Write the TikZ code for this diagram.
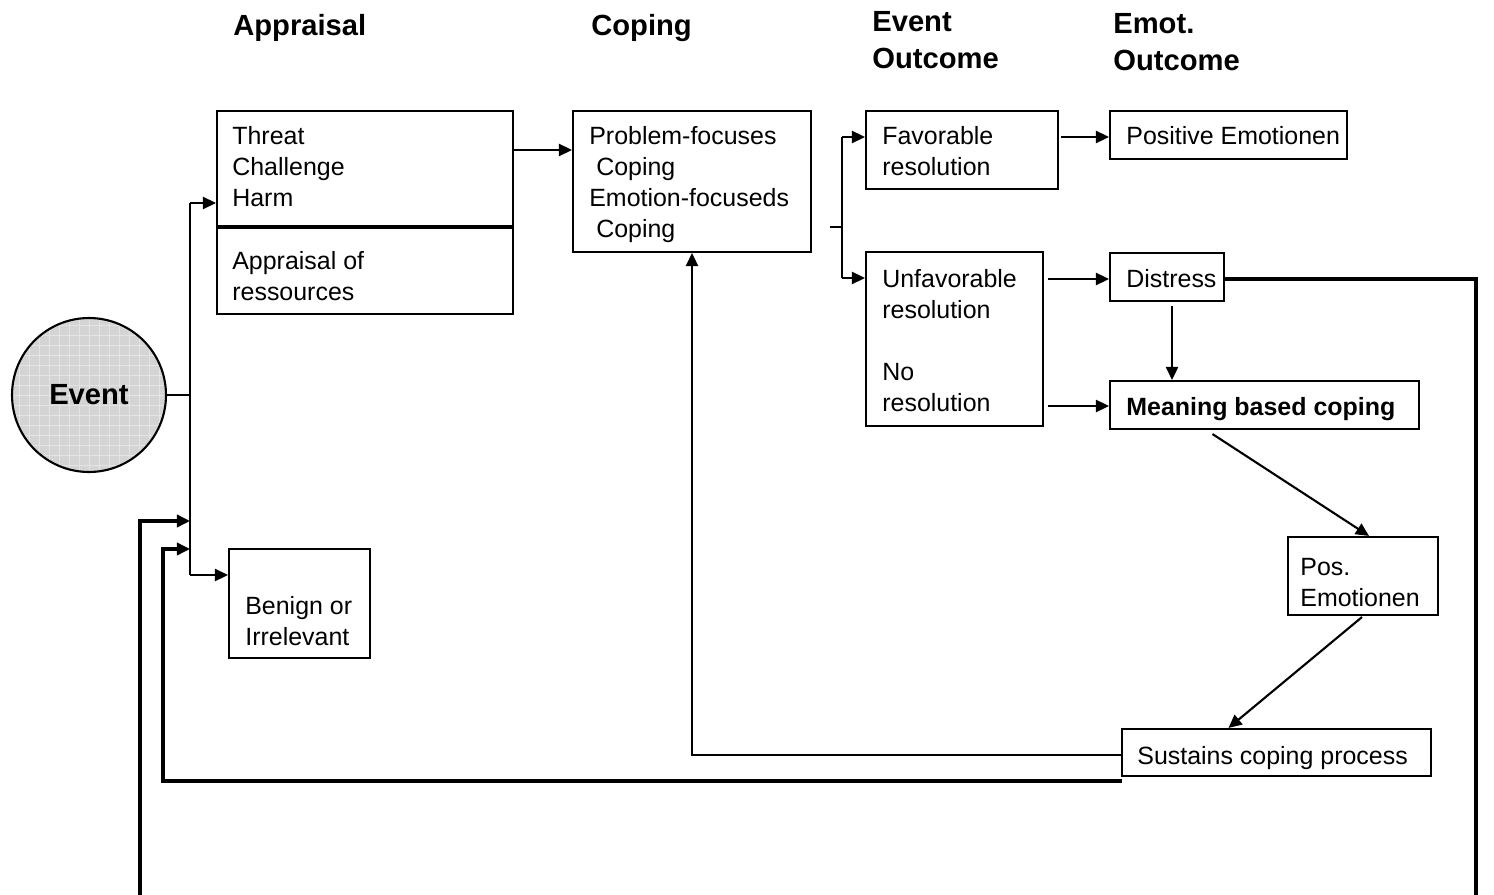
\documentclass[tikz,border=0pt]{standalone}
\usepackage{fontspec}
\setmainfont{Liberation Sans}
\usetikzlibrary{arrows.meta,fit}
\definecolor{evfill}{RGB}{212,212,212}
\definecolor{evgrid}{RGB}{228,228,228}
\begin{document}
\begin{tikzpicture}[x=0.02cm,y=-0.02cm,
  font=\fontsize{14.2}{17.6}\selectfont,
  box/.style={draw, line width=1.2pt, inner sep=0pt, fit={#1}},
  lbl/.style={anchor=north west, inner sep=0pt, align=left},
  head/.style={lbl, font=\fontsize{16.6}{21}\selectfont\bfseries},
  link/.style={line width=1.2pt},
  arr/.style={link, -{Triangle[length=7.5pt,width=7pt]}},
  fb/.style={line width=1.8pt},
  fbarr/.style={fb, -{Triangle[length=7.5pt,width=7pt]}}]
\useasboundingbox (0,0) rectangle (1494,895);

% column headings
\node[head] (hA) at (233,14) {Appraisal};
\node[head] (hC) at (591,14) {Coping};
\node[head] (hE) at (872,11) {Event\\Outcome};
\node[head] (hM) at (1113,13) {Emot.\\Outcome};

% the triggering event
\node[circle, draw, line width=1.2pt, minimum size=3.08cm, fill=evfill,
  font=\fontsize{16.6}{21}\selectfont\bfseries,
  path picture={\draw[evgrid, line width=0.4pt, step=0.2cm]
    (path picture bounding box.south west) grid (path picture bounding box.north east);}]
  (event) at (89,395) {Event};

% boxes
\node[box={(217,111) (513,314)}] (threat) {};
\draw[line width=1.8pt] (threat.west |- 0,227) -- (threat.east |- 0,227);
\node[box={(573,111) (811,252)}] (coping) {};
\node[box={(866,111) (1058,189)}] (fav) {};
\node[box={(1110,111) (1347,159)}] (posem) {};
\node[box={(866,252) (1043,426)}] (unfav) {};
\node[box={(1110,253) (1224,301)}] (distress) {};
\node[box={(1110,381) (1419,429)}] (meaning) {};
\node[box={(1288,537) (1438,615)}] (posemo) {};
\node[box={(1122,729) (1431,776)}] (sust) {};
\node[box={(229,549) (370,658)}] (benign) {};

% box texts
\node[lbl] (tThreat) at (232,126) {Threat\\Challenge\\Harm};
\node[lbl] (tRes) at (232,251) {Appraisal of\\ressources};
\node[lbl] (tCop) at (589,126) {Problem-focuses\\\hspace*{0.278em}Coping\\Emotion-focuseds\\\hspace*{0.278em}Coping};
\node[lbl] (tFav) at (882,126) {Favorable\\resolution};
\node[lbl] (tPos) at (1126,126) {Positive Emotionen};
\node[lbl] (tUnf) at (882,269) {Unfavorable\\resolution\\[17.6pt]No\\resolution};
\node[lbl] (tDis) at (1126,269) {Distress};
\node[lbl, font=\fontsize{14.2}{17.6}\selectfont\bfseries] (tMea) at (1126,397) {Meaning based coping};
\node[lbl] (tPe) at (1300,558) {Pos.\\Emotionen};
\node[lbl] (tSus) at (1137,746) {Sustains coping process};
\node[lbl] (tBen) at (245,596) {Benign or\\Irrelevant};

% distribution bus after the event
\coordinate (busJoin) at (190,395);
\coordinate (busTop) at (190,203);
\coordinate (busBot) at (190,575);
\draw[link] (event.east) -- (busJoin);
\draw[link] (busTop) -- (busBot);
\draw[arr] (busTop) -- (threat.west |- busTop);
\draw[arr] (busBot) -- (benign.west |- busBot);

% appraisal -> coping
\draw[arr] (threat.east |- 0,150) -- (coping.west |- 0,150);

% coping -> event outcomes
\coordinate (cpOut) at (830,227);
\coordinate (splMid) at (842,227);
\coordinate (splTop) at (842,137);
\coordinate (splBot) at (842,278);
\draw[link] (cpOut) -- (splMid);
\draw[link] (splTop) -- (splBot);
\draw[arr] (splTop) -- (fav.west |- splTop);
\draw[arr] (splBot) -- (unfav.west |- splBot);

% event outcomes -> emotional outcomes
\draw[arr] ([shift={(2,0)}]fav.east |- 0,137) -- (posem.west |- 0,137);
\draw[arr] ([shift={(4,0)}]unfav.east |- 0,279) -- (distress.west |- 0,279);
\draw[arr] ([shift={(4,0)}]unfav.east |- 0,406) -- (meaning.west |- 0,406);
\draw[arr] ([shift={(5,4)}]distress.south) -- ([shift={(5,0)}]distress.south |- meaning.north);
\draw[arr] ([shift={(-52,4)}]meaning.south) -- ([shift={(6,0)}]posemo.north);
\draw[arr] ([shift={(-1,1)}]posemo.south) -- ([shift={(-48,0)}]sust.north);

% feedback loops
\draw[arr] (sust.west |- 0,755) -| (coping.south);
\coordinate (lowEnd) at (1122,781);
\coordinate (lowCorner) at (163,781);
\coordinate (inB) at (190,549);
\draw[fbarr] (lowEnd) -- (lowCorner) |- (inB);
\coordinate (outerBottom) at (140,895);
\coordinate (inA) at (190,521);
\draw[fbarr] (outerBottom) |- (inA);
\coordinate (rightBottom) at (1476,895);
\draw[fb] (distress.east |- 0,279) -| (rightBottom);
\end{tikzpicture}
\end{document}
